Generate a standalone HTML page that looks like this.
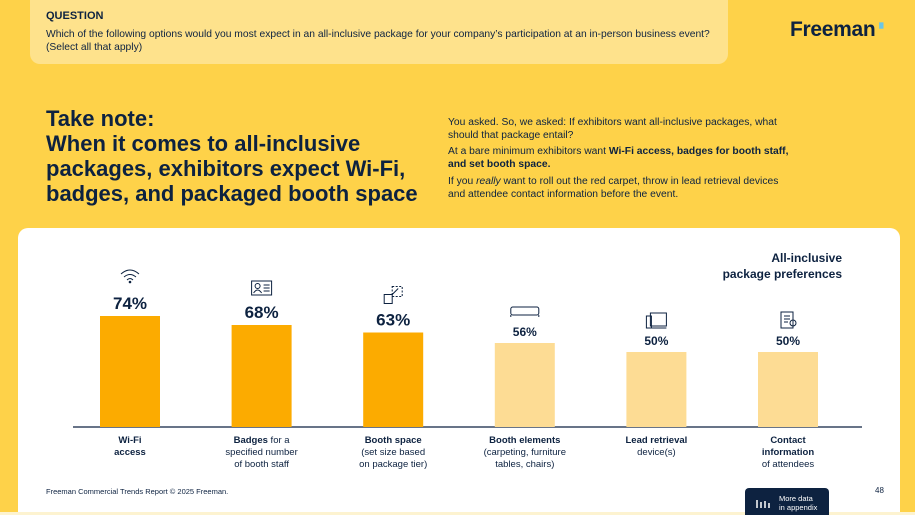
<!DOCTYPE html>
<html><head><meta charset="utf-8">
<style>
*{margin:0;padding:0;box-sizing:border-box}
html,body{width:915px;height:515px;overflow:hidden}
body{background:#FED249;font-family:"Liberation Sans",sans-serif;color:#0D2240;position:relative}
.q{position:absolute;left:30px;top:0;width:698px;height:64px;background:#FEE28C;border-radius:0 0 10px 10px}
.q h4{position:absolute;left:16px;top:10px;font-size:11px;font-weight:bold}
.q p{position:absolute;left:16px;top:28px;font-size:10.3px;line-height:13px;white-space:nowrap;transform:scaleX(1.0);transform-origin:left top}
.logo{position:absolute;left:790px;top:18px;font-size:21px;font-weight:bold;letter-spacing:-0.3px}
.logo span{color:#6cc6e6;font-size:10px;vertical-align:top}
.title{position:absolute;left:46px;top:106px;font-size:22px;font-weight:bold;line-height:25px;white-space:nowrap;transform:scaleX(1.0);transform-origin:left top}
.side{position:absolute;left:448px;top:117px;font-size:10px;line-height:12.7px;white-space:nowrap;transform:scaleX(1.03);transform-origin:left top}
.side p{margin-bottom:4px}
.card{position:absolute;left:18px;top:228px;width:882px;height:300px;background:#fff;border-radius:10px}
.strip{position:absolute;left:0;top:512px;width:915px;height:3px;background:#FDF3D0}
.foot{position:absolute;left:46px;top:487px;font-size:7.5px}
.pg{position:absolute;left:875px;top:486px;font-size:8px}
.btn{position:absolute;left:745px;top:488px;width:84px;height:27px;background:#0D2240;border-radius:4px 4px 0 0;color:#fff;font-size:7.5px;line-height:9px;padding:6px 0 0 34px}
svg{position:absolute;left:0;top:0}
</style></head><body>
<div class="q"><h4>QUESTION</h4><p>Which of the following options would you most expect in an all-inclusive package for your company’s participation at an in-person business event?<br>(Select all that apply)</p></div>
<div class="logo">Freeman<span>▗</span></div>
<div class="title">Take note:<br>When it comes to all-inclusive<br>packages, exhibitors expect Wi-Fi,<br>badges, and packaged booth space</div>
<div class="side">
<p>You asked. So, we asked: If exhibitors want all-inclusive packages, what<br>should that package entail?</p>
<p>At a bare minimum exhibitors want <b>Wi-Fi access, badges for booth staff,<br>and set booth space.</b></p>
<p>If you <i>really</i> want to roll out the red carpet, throw in lead retrieval devices<br>and attendee contact information before the event.</p></div>
<div class="card"></div>
<div class="strip"></div>
<svg id="chart" width="915" height="515">
<text x="842" y="262" text-anchor="end" font-size="12" font-weight="bold" fill="#0D2240">All-inclusive</text>
<text x="842" y="278" text-anchor="end" font-size="12" font-weight="bold" fill="#0D2240">package preferences</text>
<line x1="73" y1="427" x2="862" y2="427" stroke="#0D2240" stroke-width="1.2"/>
</svg>
<div class="foot">Freeman Commercial Trends Report © 2025 Freeman.</div>
<div class="pg">48</div>
<div class="btn"><svg width="16" height="14" style="left:10px;top:7px"><g stroke="#fff" stroke-width="1.5"><line x1="2" y1="13" x2="2" y2="5"/><line x1="6" y1="13" x2="6" y2="7"/><line x1="10" y1="13" x2="10" y2="6"/><line x1="14" y1="13" x2="14" y2="8"/></g></svg>More data<br>in appendix</div>
<script>
const categories=["Wi-Fi access","Badges","Booth space","Booth elements","Lead retrieval","Contact information"];
const values=[74,68,63,56,50,50];
const valueLabels=["74%","68%","63%","56%","50%","50%"];
const highlight=[true,true,true,false,false,false];
const labels=[
 [[["Wi-Fi",1]],[["access",1]]],
 [[["Badges",1],[" for a",0]],[["specified number",0]],[["of booth staff",0]]],
 [[["Booth space",1]],[["(set size based",0]],[["on package tier)",0]]],
 [[["Booth elements",1]],[["(carpeting, furniture",0]],[["tables, chairs)",0]]],
 [[["Lead retrieval",1]],[["device(s)",0]]],
 [[["Contact",1]],[["information",1]],[["of attendees",0]]]
];
const NS="http://www.w3.org/2000/svg";
const svg=document.getElementById("chart");
const base=427, scale=1.5, x0=130, step=131.6, bw=60;
const xPos=i=>x0+i*step;
const yPos=v=>base-v*scale;
function mk(t,a){const e=document.createElementNS(NS,t);for(const k in a)e.setAttribute(k,a[k]);svg.appendChild(e);return e;}
values.forEach((v,i)=>{
 const cx=xPos(i);
 const r=mk("rect",{x:cx-bw/2,y:yPos(v),width:bw,height:base-yPos(v),fill:highlight[i]?"#FCAB00":"#FDDC94"});
 
 
 const big=highlight[i];
 const t=mk("text",{x:cx,y:yPos(v)-7,"text-anchor":"middle","font-size":big?17:12,"font-weight":"bold",fill:"#0D2240"});
 t.textContent=valueLabels[i];
 
 
 const iy=yPos(v)-(big?38:32);
 const g=mk("g",{stroke:"#0D2240","stroke-width":1,fill:"none"});
 
 
 g.innerHTML=[
  `<path d="M${cx-9} ${iy-4} q9 -8 18 0 M${cx-6} ${iy-1} q6 -5 12 0 M${cx-3} ${iy+2} q3 -3 6 0"/><circle cx="${cx}" cy="${iy+4}" r="0.8" fill="#0D2240"/>`,
  `<rect x="${cx-10}" y="${iy-6}" width="20" height="14"/><circle cx="${cx-4}" cy="${iy-1}" r="2.5"/><path d="M${cx-8} ${iy+6} q4 -6 8 0 M${cx+2} ${iy-2} h6 M${cx+2} ${iy+1} h6 M${cx+2} ${iy+4} h6"/>`,
  `<rect x="${cx-1}" y="${iy-8}" width="10" height="10" stroke-dasharray="2 1.5"/><rect x="${cx-9}" y="${iy}" width="8" height="9"/><path d="M${cx-1} ${iy} l6 -6"/>`,
  `<rect x="${cx-14}" y="${iy-4}" width="28" height="8" rx="2"/><path d="M${cx-14} ${iy+4} v2 M${cx+14} ${iy+4} v2"/>`,
  `<rect x="${cx-6}" y="${iy-7}" width="16" height="13"/><rect x="${cx-10}" y="${iy-4}" width="5" height="12"/><path d="M${cx-6} ${iy+8} h16"/>`,
  `<rect x="${cx-7}" y="${iy-8}" width="12" height="16"/><path d="M${cx-4} ${iy-4} h6 M${cx-4} ${iy-1} h6 M${cx-4} ${iy+2} h4"/><circle cx="${cx+5}" cy="${iy+3}" r="3"/>`
 ][i];
 labels[i].forEach((line,li)=>{
  const tx=mk("text",{x:cx,y:443+li*12,"text-anchor":"middle","font-size":9.5,fill:"#0D2240"});
  
  
  line.forEach(([s,b])=>{const sp=document.createElementNS(NS,"tspan");if(b)sp.setAttribute("font-weight","bold");sp.textContent=s;tx.appendChild(sp);});
 });
});
</script>
</body></html>
